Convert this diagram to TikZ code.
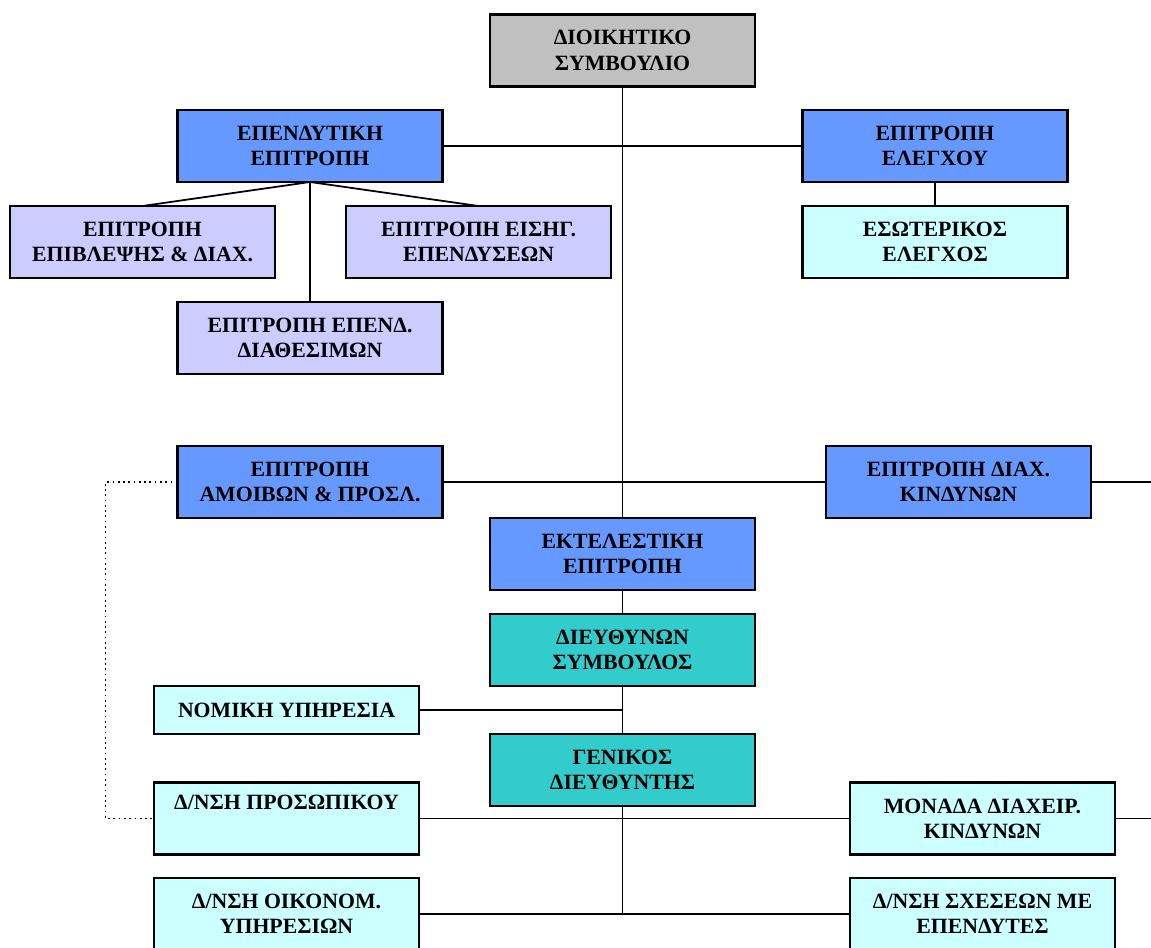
\documentclass[tikz,border=0pt]{standalone}
\usepackage{fontspec}
\setmainfont{Liberation Serif}
\usetikzlibrary{positioning}
\definecolor{board}{RGB}{192,192,192}
\definecolor{committee}{RGB}{102,153,255}
\definecolor{subcomm}{RGB}{204,204,255}
\definecolor{service}{RGB}{204,255,255}
\definecolor{executive}{RGB}{51,204,204}

\begin{document}
\begin{tikzpicture}[x=0.02cm, y=-0.02cm,
  font=\fontsize{12.4}{14.4}\selectfont\bfseries,
  unit/.style={draw, line width=1.2pt, minimum width=5.3cm, minimum height=1.44cm,
    inner sep=0pt, outer sep=0pt, align=center},
  link/.style={line width=1pt}]
  \useasboundingbox (0,0) rectangle (1151,947);

  % board and the committees under it
  \node[unit, fill=board] (dioik) at (622.5,50.5) {ΔΙΟΙΚΗΤΙΚΟ\\ΣΥΜΒΟΥΛΙΟ};
  \node[unit, fill=committee] (epend) at (310,146) {ΕΠΕΝΔΥΤΙΚΗ\\ΕΠΙΤΡΟΠΗ};
  \node[unit, fill=committee] (elegx) at (935,146) {ΕΠΙΤΡΟΠΗ\\ΕΛΕΓΧΟΥ};
  \node[unit, fill=subcomm] (epivl) at (142.5,242) {ΕΠΙΤΡΟΠΗ\\ΕΠΙΒΛΕΨΗΣ \& ΔΙΑΧ.};
  \node[unit, fill=subcomm] (eisig) at (478.5,242) {ΕΠΙΤΡΟΠΗ ΕΙΣΗΓ.\\ΕΠΕΝΔΥΣΕΩΝ};
  \node[unit, fill=service, below=0.48cm of elegx] (esoter) {ΕΣΩΤΕΡΙΚΟΣ\\ΕΛΕΓΧΟΣ};
  \node[unit, fill=subcomm, below=2.4cm of epend] (diath) {ΕΠΙΤΡΟΠΗ ΕΠΕΝΔ.\\ΔΙΑΘΕΣΙΜΩΝ};
  \node[unit, fill=committee] (amoib) at (310,482) {ΕΠΙΤΡΟΠΗ\\ΑΜΟΙΒΩΝ \& ΠΡΟΣΛ.};
  \node[unit, fill=committee] (kindyn) at (958.5,482) {ΕΠΙΤΡΟΠΗ ΔΙΑΧ.\\ΚΙΝΔΥΝΩΝ};

  % management
  \node[unit, fill=committee] (ektel) at (622.5,554) {ΕΚΤΕΛΕΣΤΙΚΗ\\ΕΠΙΤΡΟΠΗ};
  \node[unit, fill=executive, below=0.48cm of ektel] (dieyth) {ΔΙΕΥΘΥΝΩΝ\\ΣΥΜΒΟΥΛΟΣ};
  \node[unit, fill=service, minimum height=0.96cm] (nomiki) at (286.5,710) {ΝΟΜΙΚΗ ΥΠΗΡΕΣΙΑ};
  \node[unit, fill=executive, below=0.96cm of dieyth] (genik) {ΓΕΝΙΚΟΣ\\ΔΙΕΥΘΥΝΤΗΣ};
  \node[unit, fill=service] (prosop) at (286.5,818.5) {Δ/ΝΣΗ ΠΡΟΣΩΠΙΚΟΥ\\\strut};
  \node[unit, fill=service] (monada) at (982.5,818.5) {ΜΟΝΑΔΑ ΔΙΑΧΕΙΡ.\\ΚΙΝΔΥΝΩΝ};
  \node[unit, fill=service] (oikon) at (286.5,914) {Δ/ΝΣΗ ΟΙΚΟΝΟΜ.\\ΥΠΗΡΕΣΙΩΝ};
  \node[unit, fill=service] (sxes) at (982.5,914) {Δ/ΝΣΗ ΣΧΕΣΕΩΝ ΜΕ\\ΕΠΕΝΔΥΤΕΣ};

  \coordinate (edge1) at (1151,482);
  \coordinate (edge2) at (1151,818.5);

  % connectors
  \draw[link] (dioik.south) -- (ektel.north);
  \draw[link] (epend.east) -- (elegx.west);
  \draw[link] (elegx) -- (esoter);
  \draw[link] (epend.south) -- (epivl.north);
  \draw[link] (epend.south) -- (eisig.north);
  \draw[link] (epend.south) -- (diath.north);
  \draw[link] (amoib.east) -- (kindyn.west);
  \draw[link] (kindyn.east) -- (edge1);
  \draw[link, dotted, line width=0.8pt] (amoib.west) -- ++(-72,0) |- (prosop.west);
  \draw[link] (ektel) -- (dieyth);
  \draw[link] (dieyth) -- (genik);
  \draw[link] (nomiki.east) -- (nomiki.east -| dieyth.south);
  \draw[link] (prosop.east) -- (monada.west);
  \draw[link] (monada.east) -- (edge2);
  \draw[link] (genik.south) -- (genik.south |- oikon.east);
  \draw[link] (oikon.east) -- (sxes.west);
\end{tikzpicture}
\end{document}
